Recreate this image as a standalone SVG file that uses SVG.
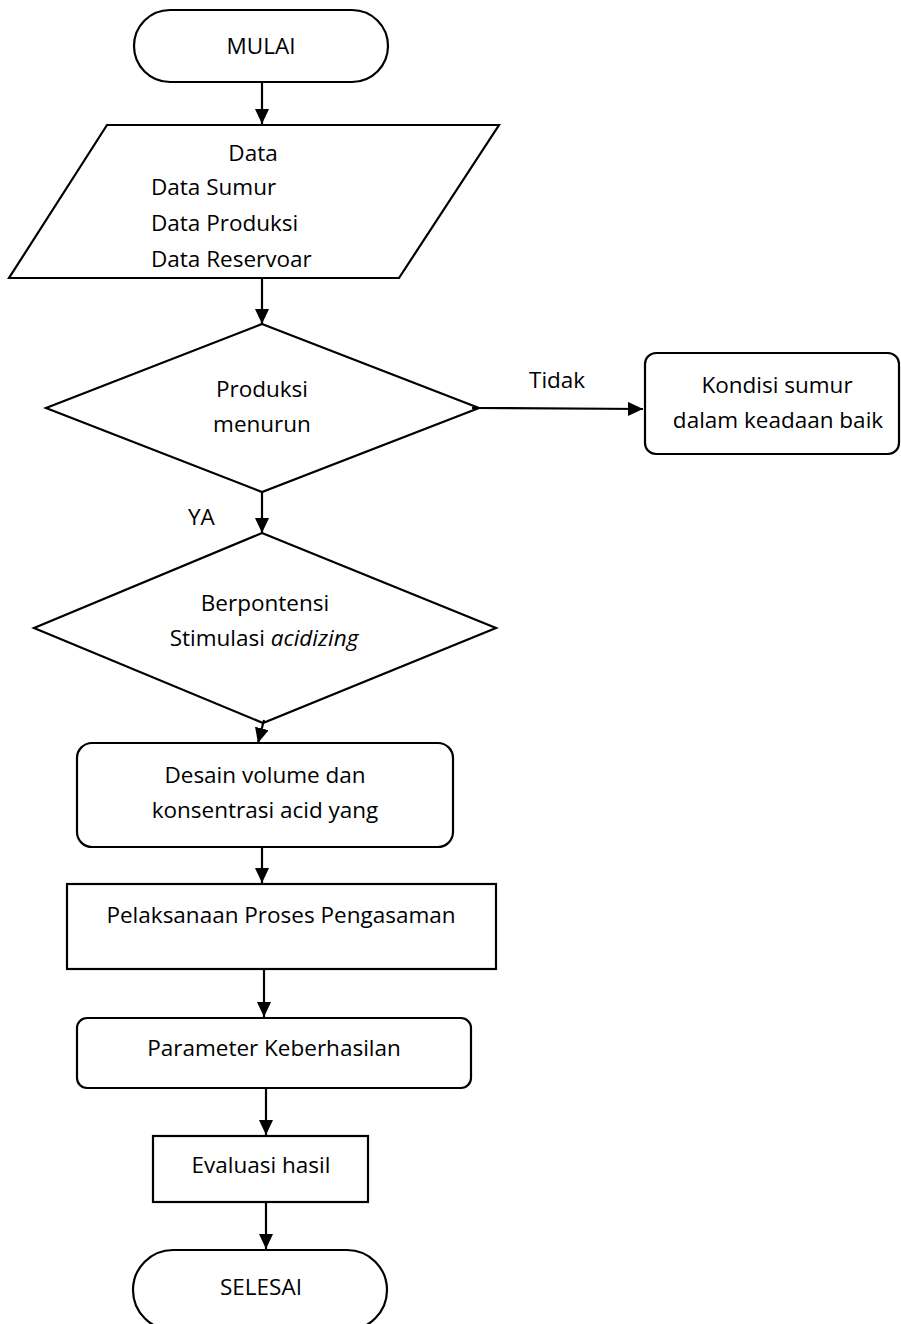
<svg xmlns="http://www.w3.org/2000/svg" width="901" height="1324" viewBox="0 0 901 1324">
<style>
.s{fill:#fff;stroke:#000;stroke-width:2.2}
.c line{stroke:#000;stroke-width:2.2}
text{font-family:"Open Sans","Liberation Sans",sans-serif;font-size:22.5px;fill:#000}
.m{text-anchor:middle}
</style>
<defs>
<marker id="ah" markerUnits="userSpaceOnUse" markerWidth="16" markerHeight="15" refX="15" refY="7" orient="auto">
<path d="M0,0 L15,7 L0,14 z" fill="#000"/>
</marker>
</defs>
<rect width="901" height="1324" fill="#fff"/>
<g id="mulai"><rect class="s" x="134" y="10" width="254" height="72" rx="36"/><text class="m" x="261" y="54">MULAI</text></g>
<g id="data"><polygon class="s" points="107,125 499,125 399,278 9,278"/>
<text class="m" x="253" y="161">Data</text>
<text x="151" y="195">Data Sumur</text>
<text x="151" y="231">Data Produksi</text>
<text x="151" y="267">Data Reservoar</text></g>
<g id="produksi"><polygon class="s" points="262,324 479,408 262,492 46,408"/>
<text class="m" x="262" y="397">Produksi</text>
<text class="m" x="262" y="432">menurun</text></g>
<g id="kondisi"><rect class="s" x="645" y="353" width="254" height="101" rx="11"/>
<text class="m" x="777" y="393">Kondisi sumur</text>
<text class="m" x="778" y="428">dalam keadaan baik</text></g>
<g id="berpotensi"><polygon class="s" points="262,533 496,628 263,723 34,628"/>
<text class="m" x="265" y="611">Berpontensi</text>
<text class="m" x="264" y="646">Stimulasi <tspan font-style="italic">acidizing</tspan></text></g>
<g id="desain"><rect class="s" x="77" y="743" width="376" height="104" rx="15"/>
<text class="m" x="265" y="783">Desain volume dan</text>
<text class="m" x="265" y="818">konsentrasi acid yang</text></g>
<g id="pelaksanaan"><rect class="s" x="67" y="884" width="429" height="85"/>
<text class="m" x="281" y="923">Pelaksanaan Proses Pengasaman</text></g>
<g id="parameter"><rect class="s" x="77" y="1018" width="394" height="70" rx="10"/>
<text class="m" x="274" y="1056">Parameter Keberhasilan</text></g>
<g id="evaluasi"><rect class="s" x="153" y="1136" width="215" height="66"/>
<text class="m" x="261" y="1173">Evaluasi hasil</text></g>
<g id="selesai"><rect class="s" x="133" y="1250" width="254" height="80" rx="40"/>
<text class="m" x="261" y="1295">SELESAI</text></g>
<g id="connectors" class="c">
<line x1="262" y1="82" x2="262" y2="124" marker-end="url(#ah)"/>
<line x1="262" y1="278" x2="262" y2="324" marker-end="url(#ah)"/>
<line x1="472" y1="408" x2="643" y2="409" marker-end="url(#ah)"/>
<line x1="262" y1="492" x2="262" y2="533" marker-end="url(#ah)"/>
<line x1="264" y1="720" x2="258" y2="743" marker-end="url(#ah)"/>
<line x1="262" y1="847" x2="262" y2="883" marker-end="url(#ah)"/>
<line x1="264" y1="969" x2="264" y2="1017" marker-end="url(#ah)"/>
<line x1="266" y1="1088" x2="266" y2="1135" marker-end="url(#ah)"/>
<line x1="266" y1="1202" x2="266" y2="1249" marker-end="url(#ah)"/>
<text x="529" y="388">Tidak</text>
<text x="188" y="525">YA</text>
</g>
</svg>
